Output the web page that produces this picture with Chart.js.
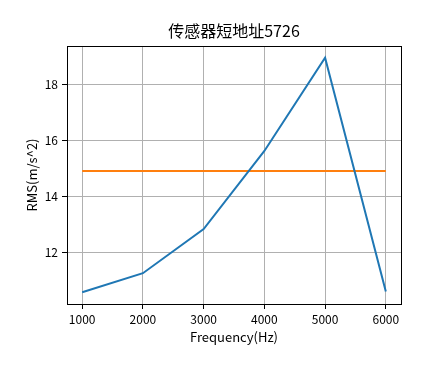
<!DOCTYPE html>
<html>
<head>
<meta charset="utf-8">
<script src="https://cdn.jsdelivr.net/npm/chart.js@4/dist/chart.umd.min.js"></script>
<style>
html,body{margin:0;padding:0;background:#fff;}
#wrap{width:444px;height:380px;}
</style>
</head>
<body>
<div id="wrap"><canvas id="c" width="444" height="380"></canvas></div>
<script>
const chartTitle = "传感器短地址5726";
const xAxisLabel = "Frequency(Hz)";
const yAxisLabel = "RMS(m/s^2)";
const frequencies = [1000, 2000, 3000, 4000, 5000, 6000];
const rmsValues = [10.57, 11.25, 12.83, 15.62, 18.95, 10.60];
const thresholdValues = [14.9, 14.9, 14.9, 14.9, 14.9, 14.9];
const xTicks = [1000, 2000, 3000, 4000, 5000, 6000];
const yTicks = [12, 14, 16, 18];

const FONT = '"Noto Sans CJK SC", "DejaVu Sans", sans-serif';

const frameAndTitle = {
  id: 'frameAndTitle',
  afterDraw(chart) {
    const {ctx, chartArea: a} = chart;
    ctx.save();
    ctx.strokeStyle = '#000';
    ctx.lineWidth = 1;
    ctx.strokeRect(Math.round(a.left) + 0.5, Math.round(a.top) + 0.5,
                   Math.round(a.right - a.left), Math.round(a.bottom - a.top));
    ctx.fillStyle = '#000';
    ctx.font = '16px ' + FONT;
    ctx.textAlign = 'center';
    ctx.textBaseline = 'middle';
    ctx.fillText(chartTitle, (a.left + a.right) / 2, 31);
    ctx.restore();
  }
};

new Chart(document.getElementById('c'), {
  type: 'line',
  data: {
    datasets: [
      {
        data: frequencies.map((f, i) => ({x: f, y: rmsValues[i]})),
        borderColor: '#1f77b4',
        borderWidth: 2,
        pointRadius: 0,
        tension: 0
      },
      {
        data: frequencies.map((f, i) => ({x: f, y: thresholdValues[i]})),
        borderColor: '#ff7f0e',
        borderWidth: 2,
        pointRadius: 0,
        tension: 0
      }
    ]
  },
  options: {
    responsive: false,
    animation: false,
    devicePixelRatio: 1,
    layout: {padding: {top: 46, right: 43, left: 0, bottom: 0}},
    plugins: {legend: {display: false}, tooltip: {enabled: false}, title: {display: false}},
    scales: {
      x: {
        type: 'linear',
        min: 750, max: 6250,
        afterBuildTicks: s => { s.ticks = xTicks.map(v => ({value: v})); },
        afterFit: s => { s.height = 76; },
        grid: {color: '#b0b0b0', lineWidth: 1, drawTicks: true, tickLength: 5, tickColor: '#000'},
        border: {display: false},
        ticks: {color: '#000', font: {family: FONT, size: 12}, padding: 3, maxRotation: 0, autoSkip: false,
                callback: v => String(v)},
        title: {display: true, text: xAxisLabel, color: '#000', font: {family: FONT, size: 13}, padding: {top: 0, bottom: 35}}
      },
      y: {
        type: 'linear',
        min: 10.15, max: 19.37,
        afterBuildTicks: s => { s.ticks = yTicks.map(v => ({value: v})); },
        afterFit: s => { s.width = 67; },
        grid: {color: '#b0b0b0', lineWidth: 1, drawTicks: true, tickLength: 5, tickColor: '#000'},
        border: {display: false},
        ticks: {color: '#000', font: {family: FONT, size: 12}, padding: 4, autoSkip: false,
                callback: v => String(v)},
        title: {display: true, text: yAxisLabel, color: '#000', font: {family: FONT, size: 13}, padding: {top: 24, bottom: 0}}
      }
    }
  },
  plugins: [frameAndTitle]
});
</script>
</body>
</html>
